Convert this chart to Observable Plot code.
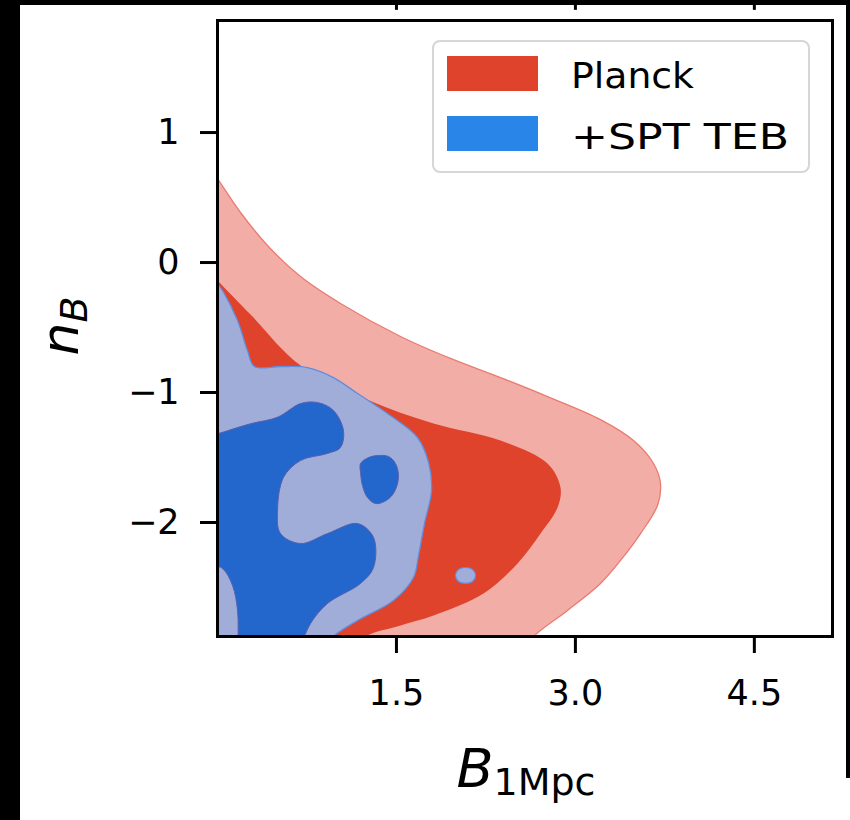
<!DOCTYPE html>
<html><head><meta charset="utf-8">
<script src="https://cdn.jsdelivr.net/npm/d3@7"></script>
<script src="https://cdn.jsdelivr.net/npm/@observablehq/plot@0.6"></script>
<style>
html,body{margin:0;padding:0;background:#000;width:850px;height:820px;overflow:hidden;}
#paper{position:absolute;left:20px;top:5px;width:830px;height:815px;background:#fff;}
#edge{position:absolute;left:846px;top:0;width:4px;height:778px;background:#000;}
#chart{position:absolute;left:0;top:0;}
</style>
</head><body>
<div id="paper"></div><div id="edge"></div><div id="chart"></div>
<script>
// ---- data (B_1Mpc, n_B) contour outlines ----
const planck2sigma = [[-0.1,0.78],[0,0.646],[0.193,0.385],[0.419,0.131],[0.696,-0.108],[1.031,-0.315],[1.534,-0.569],[1.953,-0.738],[2.372,-0.885],[2.766,-1.031],[3.21,-1.208],[3.487,-1.369],[3.655,-1.546],[3.713,-1.70],[3.688,-1.869],[3.546,-2.085],[3.378,-2.292],[3.21,-2.469],[2.934,-2.677],[2.649,-2.877],[2.58,-2.97],[2.4,-3.1],[-0.3,-3.1],[-0.3,0.9]];
const planck1sigma = [[-0.12,-0.02],[0,-0.138],[0.277,-0.40],[0.696,-0.792],[1.257,-1.055],[1.811,-1.238],[2.372,-1.369],[2.766,-1.546],[2.875,-1.731],[2.85,-1.885],[2.708,-2.085],[2.515,-2.315],[2.23,-2.546],[1.811,-2.715],[1.534,-2.792],[1.241,-2.877],[1.18,-2.95],[1.0,-3.1],[-0.3,-3.1],[-0.3,0.1]];
const spt2sigma = [[-0.08,0.05],[0,-0.16],[0.042,-0.215],[0.168,-0.446],[0.251,-0.677],[0.31,-0.80],[0.528,-0.80],[0.754,-0.808],[0.972,-0.885],[1.174,-1.008],[1.425,-1.162],[1.676,-1.346],[1.769,-1.538],[1.794,-1.754],[1.735,-2.008],[1.685,-2.254],[1.643,-2.423],[1.475,-2.60],[1.174,-2.754],[0.972,-2.877],[0.92,-2.95],[0.8,-3.1],[-0.3,-3.1],[-0.3,0.1]];
const spt2sigmaIsland = [[2.163,-2.408],[2.138,-2.362],[2.079,-2.346],[2.02,-2.362],[1.995,-2.408],[2.02,-2.454],[2.079,-2.469],[2.138,-2.454]];
const spt1sigma = [[-0.1,-1.35],[0.03,-1.31],[0.277,-1.24],[0.503,-1.19],[0.696,-1.085],[0.838,-1.077],[0.972,-1.138],[1.056,-1.292],[1.031,-1.423],[0.922,-1.469],[0.696,-1.523],[0.553,-1.654],[0.503,-1.908],[0.528,-2.085],[0.696,-2.162],[0.922,-2.085],[1.174,-2.008],[1.308,-2.115],[1.308,-2.346],[1.199,-2.469],[0.922,-2.623],[0.78,-2.777],[0.70,-2.95],[0.65,-3.1],[0.2,-3.1],[0.176,-2.95],[0.168,-2.677],[0.126,-2.485],[0.042,-2.354],[-0.1,-2.30]];
const spt1sigmaIsland = [[1.199,-1.546],[1.266,-1.50],[1.341,-1.485],[1.433,-1.492],[1.492,-1.546],[1.517,-1.654],[1.475,-1.777],[1.40,-1.838],[1.324,-1.854],[1.257,-1.808],[1.215,-1.715],[1.199,-1.615]];

const xDomain = [0, 5.155];
const yDomain = [-2.877, 1.862];
const xTicks = [1.5, 3.0, 4.5];
const xTickLabels = ["1.5", "3.0", "4.5"];
const yTicks = [-2, -1, 0, 1];
const yTickLabels = ["\u22122", "\u22121", "0", "1"];
const seriesNames = ["Planck", "+SPT TEB"];
const seriesColors = ["#e0432b", "#2a85e8"];
const xLabelMain = "B", xLabelSub = "1Mpc";
const yLabelMain = "n", yLabelSub = "B";

const col = {p2: "#f2ada6", p2s: "#ea7b70", p1: "#e0432b", s2: "#a1add9", s2s: "#5f8de0", s1: "#2366cc", s1s: "#5860b0"};
const X = d => d[0], Y = d => d[1];
const region = (data, fill, stroke, sw) => Plot.line(data, {x: X, y: Y, curve: "catmull-rom-closed", fill, stroke: stroke || "none", strokeWidth: sw || 0, clip: true});

const plot = Plot.plot({
  width: 850, height: 820,
  marginLeft: 217, marginRight: 18, marginTop: 20, marginBottom: 184,
  style: {background: "transparent", fontFamily: "DejaVu Sans", fontSize: "35px", color: "#000", overflow: "visible"},
  x: {domain: xDomain},
  y: {domain: yDomain},
  marks: [
    region(planck2sigma, col.p2, col.p2s, 1.3),
    region(planck1sigma, col.p1),
    region(spt2sigma, col.s2, col.s2s, 1.3),
    region(spt2sigmaIsland, col.s2, col.s2s, 1.2),
    region(spt1sigma, col.s1, col.s1s, 1),
    region(spt1sigmaIsland, col.s1, col.s1s, 1),
    Plot.frame({stroke: "#000", strokeWidth: 3}),
    Plot.axisX({ticks: xTicks, tickFormat: d => xTickLabels[xTicks.indexOf(d)], tickSize: 17, tickPadding: 27, strokeWidth: 3, label: null}),
    Plot.axisY({ticks: yTicks, tickFormat: d => yTickLabels[yTicks.indexOf(d)], tickSize: 17, tickPadding: 21, strokeWidth: 3, label: null}),
    Plot.ruleX(xTicks, {y1: 1.94, y2: 2.05, stroke: "#000", strokeWidth: 3})
  ]
});
document.getElementById("chart").appendChild(plot);

// axis labels and legend as real text
const svg = d3.select(plot);
const g = svg.append("g").attr("font-family", "DejaVu Sans").attr("fill", "#000");
const xl = g.append("text").attr("x", 526).attr("y", 787).attr("text-anchor", "middle").attr("font-size", 54);
xl.append("tspan").attr("font-style", "italic").text(xLabelMain);
xl.append("tspan").attr("font-size", 38).attr("dy", 8).text(xLabelSub);
const yl = g.append("text").attr("transform", "translate(78,326) rotate(-90)").attr("text-anchor", "middle").attr("font-size", 52);
yl.append("tspan").attr("font-style", "italic").text(yLabelMain);
yl.append("tspan").attr("font-size", 38).attr("dy", 9).attr("font-style", "italic").text(yLabelSub);

const lg = svg.append("g").attr("font-family", "DejaVu Sans").attr("text-anchor", "start");
lg.append("rect").attr("x", 433).attr("y", 41).attr("width", 376).attr("height", 131).attr("rx", 7)
  .attr("fill", "#fff").attr("fill-opacity", 0.85).attr("stroke", "#d6d6d6").attr("stroke-width", 2);
const textLens = [123, 218];
seriesNames.forEach((name, i) => {
  lg.append("rect").attr("x", 447).attr("y", 56 + i * 60).attr("width", 91).attr("height", 35).attr("fill", seriesColors[i]);
  lg.append("text").attr("x", 571).attr("y", 88 + i * 61).attr("font-size", 36).attr("fill", "#000").attr("text-anchor", "start")
    .attr("textLength", textLens[i]).attr("lengthAdjust", "spacingAndGlyphs").text(name);
});
</script>
</body></html>
